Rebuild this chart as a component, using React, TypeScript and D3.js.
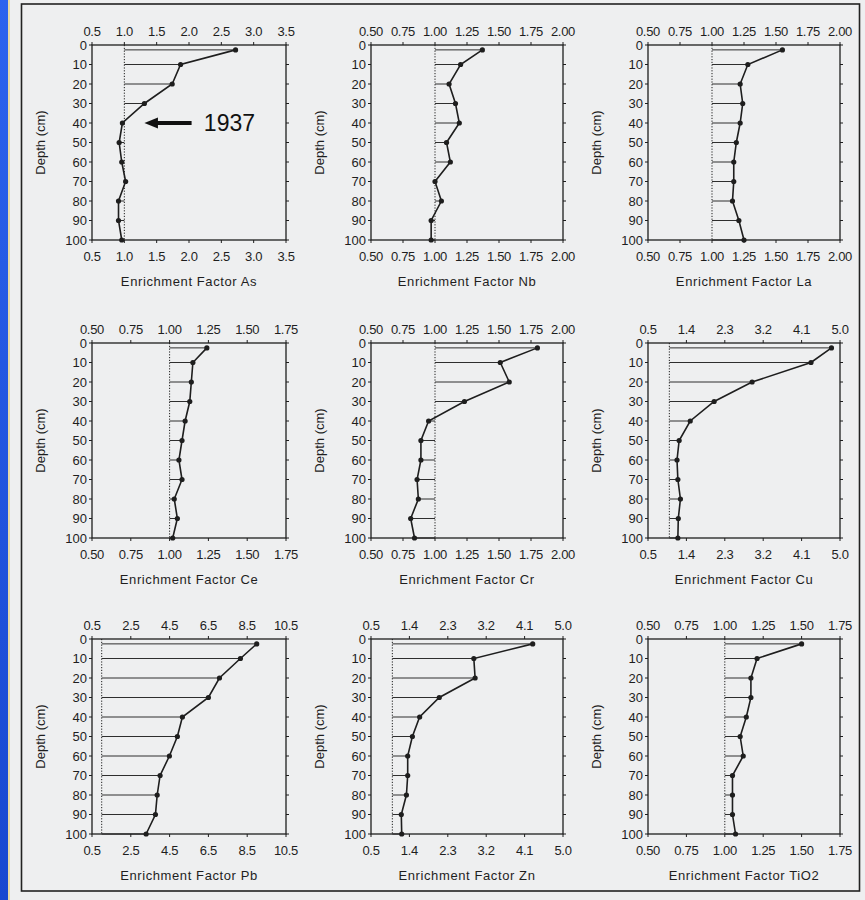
import React from "react";
import * as d3 from "d3";

// ---- data ----
const depths = [2.5, 10, 20, 30, 40, 50, 60, 70, 80, 90, 100];
const depthTicks = [0, 10, 20, 30, 40, 50, 60, 70, 80, 90, 100];

const asValues = [2.72, 1.87, 1.74, 1.31, 0.97, 0.92, 0.96, 1.02, 0.91, 0.91, 0.96];
const nbValues = [1.37, 1.2, 1.11, 1.16, 1.19, 1.09, 1.12, 1.0, 1.05, 0.97, 0.97];
const laValues = [1.55, 1.28, 1.22, 1.24, 1.22, 1.19, 1.17, 1.17, 1.16, 1.21, 1.25];
const ceValues = [1.24, 1.15, 1.14, 1.13, 1.1, 1.08, 1.06, 1.08, 1.03, 1.05, 1.02];
const crValues = [1.8, 1.51, 1.58, 1.23, 0.95, 0.89, 0.89, 0.86, 0.87, 0.81, 0.84];
const cuValues = [4.8, 4.32, 2.94, 2.05, 1.49, 1.23, 1.18, 1.2, 1.26, 1.21, 1.2];
const pbValues = [8.99, 8.15, 7.07, 6.5, 5.16, 4.9, 4.49, 4.01, 3.86, 3.77, 3.29];
const znValues = [4.29, 2.91, 2.94, 2.1, 1.64, 1.47, 1.36, 1.36, 1.33, 1.21, 1.22];
const tiValues = [1.5, 1.21, 1.17, 1.17, 1.14, 1.1, 1.12, 1.05, 1.05, 1.05, 1.07];

const ticksAs = ["0.5", "1.0", "1.5", "2.0", "2.5", "3.0", "3.5"];
const ticks050to200 = ["0.50", "0.75", "1.00", "1.25", "1.50", "1.75", "2.00"];
const ticks050to175 = ["0.50", "0.75", "1.00", "1.25", "1.50", "1.75"];
const ticks05to50 = ["0.5", "1.4", "2.3", "3.2", "4.1", "5.0"];
const ticksPb = ["0.5", "2.5", "4.5", "6.5", "8.5", "10.5"];

const panelLabels = ["As", "Nb", "La", "Ce", "Cr", "Cu", "Pb", "Zn", "TiO2"];
const panelValues = [asValues, nbValues, laValues, ceValues, crValues, cuValues, pbValues, znValues, tiValues];
const panelTicks = [ticksAs, ticks050to200, ticks050to200, ticks050to175, ticks050to200, ticks05to50, ticksPb, ticks05to50, ticks050to175];

const annotationText = "1937";
const annotationDepth = 40;

// ---- layout ----
const W = 865;
const H = 900;
const colFrames = [
  [92, 286],
  [371, 563],
  [648, 840],
];
const rowFrames = [
  [45, 240],
  [343, 538],
  [639, 834],
];

const FONT = "'Liberation Sans', Arial, Helvetica, sans-serif";
const INK = "#1e1e1e";

function Panel({ idx }: { idx: number }) {
  const [x0, x1] = colFrames[idx % 3];
  const [y0, y1] = rowFrames[Math.floor(idx / 3)];
  const ticks = panelTicks[idx];
  const tickNums = ticks.map(Number);
  const values = panelValues[idx];
  const x = d3.scaleLinear().domain([tickNums[0], tickNums[tickNums.length - 1]]).range([x0, x1]);
  const y = d3.scaleLinear().domain([0, 100]).range([y0, y1]);
  const pts = depths.map((d, i) => [x(values[i]), y(d)] as [number, number]);
  const line = d3.line()(pts) || "";
  const tl = 3;
  return (
    <g>
      {/* dotted reference line at 1.0 */}
      <line x1={x(1)} x2={x(1)} y1={y0} y2={y1} stroke={INK} strokeWidth={1} strokeDasharray="1.2,1.6" />
      {/* stems */}
      {depths.map((d, i) => (
        <line key={"s" + i} x1={x(1)} x2={x(values[i])} y1={y(d)} y2={y(d)} stroke="#2e2e2e" strokeWidth={1} />
      ))}
      {/* frame */}
      <rect x={x0} y={y0} width={x1 - x0} height={y1 - y0} fill="none" stroke={INK} strokeWidth={1.3} />
      {/* x ticks top & bottom */}
      {tickNums.map((t, i) => (
        <g key={"xt" + i}>
          <line x1={x(t)} x2={x(t)} y1={y0} y2={y0 - tl} stroke={INK} strokeWidth={1} />
          <line x1={x(t)} x2={x(t)} y1={y1} y2={y1 + tl} stroke={INK} strokeWidth={1} />
          <text x={x(t)} y={y0 - 9.5} textAnchor="middle" fontSize={13} fill={INK} fontFamily={FONT} letterSpacing={-0.3}>
            {ticks[i]}
          </text>
          <text x={x(t)} y={y1 + 21} textAnchor="middle" fontSize={13} fill={INK} fontFamily={FONT} letterSpacing={-0.3}>
            {ticks[i]}
          </text>
        </g>
      ))}
      {/* y ticks left & right */}
      {depthTicks.map((d, i) => (
        <g key={"yt" + i}>
          <line x1={x0} x2={x0 - tl} y1={y(d)} y2={y(d)} stroke={INK} strokeWidth={1} />
          <line x1={x1} x2={x1 + tl} y1={y(d)} y2={y(d)} stroke={INK} strokeWidth={1} />
          <text x={x0 - 5} y={y(d)} dy="0.36em" textAnchor="end" fontSize={13} fill={INK} fontFamily={FONT}>
            {d}
          </text>
        </g>
      ))}
      {/* profile */}
      <path d={line} fill="none" stroke={INK} strokeWidth={1.6} />
      {pts.map((p, i) => (
        <circle key={"p" + i} cx={p[0]} cy={p[1]} r={2.6} fill={INK} />
      ))}
      {/* axis titles */}
      <text
        transform={`translate(${x0 - 52},${(y0 + y1) / 2}) rotate(-90)`}
        textAnchor="middle"
        dy="0.36em"
        fontSize={13}
        fill={INK}
        fontFamily={FONT}
      >
        Depth (cm)
      </text>
      <text x={(x0 + x1) / 2} y={y1 + 46} textAnchor="middle" fontSize={13} fill={INK} fontFamily={FONT} letterSpacing={0.6}>
        {"Enrichment Factor " + panelLabels[idx]}
      </text>
      {idx === 0 && (
        <g>
          <line x1={x(2.04)} x2={x(1.5)} y1={y(annotationDepth)} y2={y(annotationDepth)} stroke="#111" strokeWidth={4} />
          <polygon
            points={`${x(1.31)},${y(annotationDepth)} ${x(1.52)},${y(annotationDepth) - 5.5} ${x(1.52)},${y(annotationDepth) + 5.5}`}
            fill="#111"
          />
          <text x={x(2.23)} y={y(annotationDepth) + 8} fontSize={23} fill="#111" fontFamily={FONT}>
            {annotationText}
          </text>
        </g>
      )}
    </g>
  );
}

export default function App() {
  return (
    <svg width={W} height={H} style={{ position: "absolute", left: 0, top: 0, display: "block" }}>
      <defs>
        <linearGradient id="blueStrip" x1="0" x2="0" y1="0" y2="1">
          <stop offset="0" stopColor="#2c63ee" />
          <stop offset="1" stopColor="#1848d0" />
        </linearGradient>
      </defs>
      <rect x={0} y={0} width={W} height={H} fill="#eeeff0" />
      <rect x={0} y={0} width={8} height={H} fill="url(#blueStrip)" />
      <rect x={8} y={0} width={2} height={H} fill="#e6d9a8" />
      <rect x={21.5} y={4} width={838} height={887} fill="none" stroke="#222" strokeWidth={1.6} />
      {panelLabels.map((_, i) => (
        <Panel key={i} idx={i} />
      ))}
    </svg>
  );
}
